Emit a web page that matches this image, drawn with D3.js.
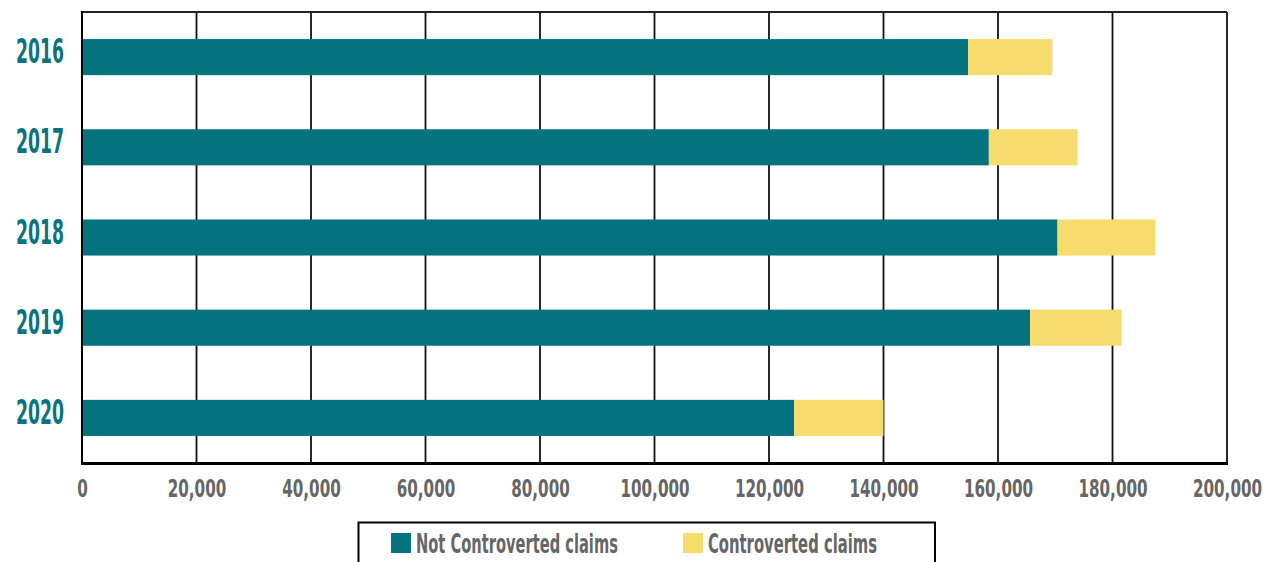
<!DOCTYPE html>
<html>
<head>
<meta charset="utf-8">
<script src="https://cdn.jsdelivr.net/npm/d3@7"></script>
<style>
  html, body { margin: 0; padding: 0; background: #fff; }
  svg { display: block; }
  text { font-family: "DejaVu Sans Condensed", "Liberation Sans", sans-serif; }
</style>
</head>
<body>
<svg id="chart" width="1268" height="562"></svg>
<script>
const years = ["2016", "2017", "2018", "2019", "2020"];
const notControverted = [154800, 158400, 170400, 165600, 124400];
const controverted = [14700, 15500, 17100, 16000, 15600];
const xTicks = [0, 20000, 40000, 60000, 80000, 100000, 120000, 140000, 160000, 180000, 200000];
const seriesNames = ["Not Controverted claims", "Controverted claims"];
const seriesColors = ["#04737E", "#F6DC6C"];

const FONT = '"DejaVu Sans Condensed", "Liberation Sans", sans-serif';
const svg = d3.select("#chart");
const margin = { left: 82, top: 12, right: 41, bottom: 99 };
const W = 1268, H = 562;
const x = d3.scaleLinear().domain([0, 200000]).range([margin.left, W - margin.right]);
const y = d3.scaleBand().domain(years).range([margin.top, H - margin.bottom]).paddingInner(0.6).paddingOuter(0.3);

// target width of condensed label text, by character
const textW = (s, digitW, commaW) => [...s].reduce((a, c) => a + (c === "," ? commaW : digitW), 0);
// squeeze a text horizontally to a target width (about its own origin)
function squeeze(sel, targetW, pre) {
  sel.each(function (d) {
    const t = d3.select(this);
    const w = this.getComputedTextLength();
    const tw = typeof targetW === "function" ? targetW(d) : targetW;
    t.attr("transform", `${pre ? pre(d) : ""} scale(${tw / w},1)`);
  });
}

// gridlines
svg.append("g").selectAll("line").data(xTicks.slice(1)).join("line")
  .attr("x1", d => x(d)).attr("x2", d => x(d))
  .attr("y1", margin.top).attr("y2", H - margin.bottom)
  .attr("stroke", "#111").attr("stroke-width", 1.8);

// top border
svg.append("line").attr("x1", margin.left).attr("x2", x(200000))
  .attr("y1", margin.top).attr("y2", margin.top)
  .attr("stroke", "#222").attr("stroke-width", 1.8);

// stacked data
const rows = years.map((yr, i) => ({ year: yr, a: notControverted[i], b: controverted[i] }));
const stack = d3.stack().keys(["a", "b"])(rows);

svg.append("g").selectAll("g").data(stack).join("g")
  .attr("fill", (d, i) => seriesColors[i])
  .selectAll("rect").data(d => d).join("rect")
  .attr("x", d => x(d[0]))
  .attr("width", d => x(d[1]) - x(d[0]))
  .attr("y", d => y(d.data.year))
  .attr("height", y.bandwidth());

// left axis line
svg.append("line").attr("x1", margin.left).attr("x2", margin.left)
  .attr("y1", margin.top - 1).attr("y2", H - margin.bottom + 1.5)
  .attr("stroke", "#000").attr("stroke-width", 2);
// bottom axis line
svg.append("line").attr("x1", margin.left - 1).attr("x2", x(200000) + 1)
  .attr("y1", H - margin.bottom + 0.5).attr("y2", H - margin.bottom + 0.5)
  .attr("stroke", "#000").attr("stroke-width", 3);

// x tick labels via axis
const fmt = d3.format(",");
const xAxis = d3.axisBottom(x).tickValues(xTicks).tickSize(0).tickPadding(0).tickFormat(fmt);
const gx = svg.append("g").attr("transform", `translate(0, ${H - margin.bottom})`).call(xAxis);
gx.select(".domain").remove();
gx.selectAll("text")
  .attr("dy", null).attr("y", 34).attr("x", 0)
  .attr("fill", "#666").attr("font-size", 24.5).attr("font-weight", "bold")
  .style("font-family", FONT)
  .call(squeeze, d => textW(fmt(d), 10.6, 5.5));

// year labels via axis
const yAxis = d3.axisLeft(y).tickSize(0).tickPadding(0);
const gy = svg.append("g").attr("transform", `translate(64, 0)`).call(yAxis);
gy.select(".domain").remove();
gy.selectAll("text")
  .attr("dy", null).attr("y", 6).attr("x", 0).attr("text-anchor", "end")
  .attr("fill", "#0A737E").attr("font-size", 33).attr("font-weight", "bold")
  .style("font-family", FONT)
  .call(squeeze, 48);

// legend
const leg = svg.append("g");
leg.append("rect").attr("x", 358.5).attr("y", 522.5).attr("width", 576.5).attr("height", 60)
  .attr("fill", "#fff").attr("stroke", "#000").attr("stroke-width", 2);
const legItems = [
  { sx: 391, tx: 416, tw: 202 },
  { sx: 683, tx: 708, tw: 169 }
];
legItems.forEach((it, i) => {
  leg.append("rect").attr("x", it.sx).attr("y", 533).attr("width", 20).attr("height", 20)
    .attr("fill", seriesColors[i]);
  leg.append("text").attr("x", 0).attr("y", 0)
    .attr("font-size", 26).attr("fill", "#666").attr("font-weight", "bold")
    .text(seriesNames[i])
    .call(squeeze, it.tw, () => `translate(${it.tx},553)`);
});
</script>
</body>
</html>
